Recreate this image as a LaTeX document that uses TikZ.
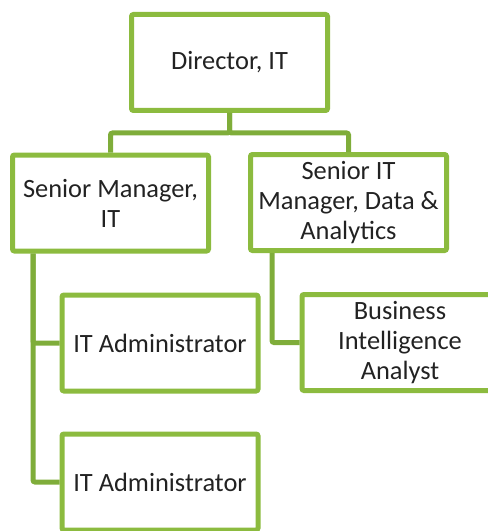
\documentclass[tikz,border=0pt]{standalone}
\usepackage{fontspec}
\setmainfont{Carlito}
\usetikzlibrary{calc}
\definecolor{boxgreen}{HTML}{8CBB3F}
\definecolor{linkgreen}{HTML}{7FAD3A}
\definecolor{txt}{HTML}{222222}

\begin{document}
\begin{tikzpicture}[x=0.75pt, y=-0.75pt,
  every node/.style = {shape=rectangle, rounded corners=1.5pt,
    draw=boxgreen, line width=3.75pt, align=center, text=txt,
    minimum width=147pt, minimum height=72pt, inner sep=0pt,
    font=\fontsize{19.8}{22.6}\selectfont},
  link/.style = {draw=linkgreen, line width=3.75pt, rounded corners=1.5pt}]
  \useasboundingbox (0,0) rectangle (488,531);
  \clip (0,0) rectangle (488,531);

  \node (dir)  at (229.5, 62.5) {Director, IT};
  \node (sm)   at (110.5, 203)  {Senior Manager,\\ IT};
  \node (sit)  at (348.5, 202.5) {Senior IT\\ Manager, Data \&\\ Analytics};
  \node (adm1) at (160, 343)    {IT Administrator};
  \node (adm2) at (160, 482)    {IT Administrator};
  \node (bi)   at (400, 342.5)  {Business\\ Intelligence\\ Analyst};

  % director to the two senior managers
  \draw[link] (dir.south) -- ++(0,20) -| (sm.north);
  \draw[link] (dir.south) -- ++(0,20) -| (sit.north);

  % reports
  \draw[link] ($(sm.south west)+(23,0)$) |- (adm2.west);
  \draw[link] ($(sm.south west)+(23,0)$) |- (adm1.west);
  \draw[link] ($(sit.south west)+(24,0)$) |- (bi.west);
\end{tikzpicture}
\end{document}
